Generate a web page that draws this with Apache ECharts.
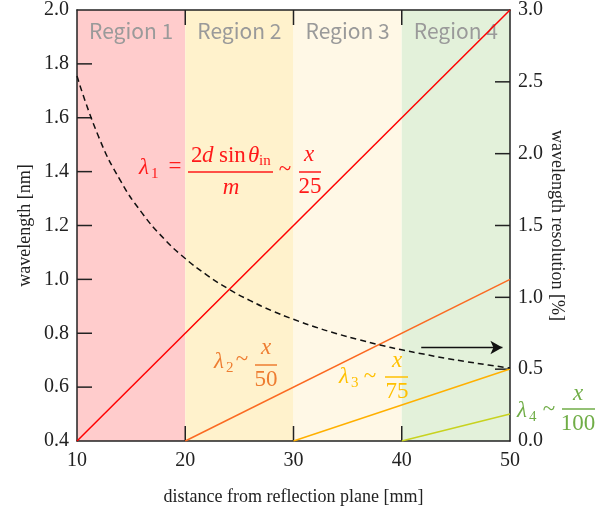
<!DOCTYPE html>
<html>
<head>
<meta charset="utf-8">
<script src="https://cdn.jsdelivr.net/npm/echarts@6/dist/echarts.min.js"></script>
<style>
  html, body { margin: 0; padding: 0; background: #fff; }
  #chart { width: 611px; height: 511px; }
</style>
</head>
<body>
<div id="chart"></div>
<script>
// wavelength lines (x in mm, y in nm)
const lambda1 = [[10, 0.4], [50, 2.0]];
const lambda2 = [[20, 0.4], [50, 1.0]];
const lambda3 = [[30, 0.4], [50, 0.667]];
const lambda4 = [[40, 0.4], [50, 0.5]];

// wavelength resolution [%]
const resX = [10, 12, 14, 16, 18, 20, 22, 24, 26, 28, 30, 32, 34, 36, 38, 40, 42, 44, 46, 48, 50];
const resValues = [2.540, 2.117, 1.814, 1.588, 1.411, 1.270, 1.155, 1.058, 0.977, 0.907, 0.847,
  0.794, 0.747, 0.706, 0.668, 0.635, 0.605, 0.577, 0.552, 0.529, 0.508];

const regionNames = ["Region 1", "Region 2", "Region 3", "Region 4"];
const regionBounds = [[10, 20], [20, 30], [30, 40], [40, 50]];

// inner tick marks
const xTicks = [20, 30, 40];
const leftTicks = [0.6, 0.8, 1.0, 1.2, 1.4, 1.6, 1.8];
const rightTicks = [0.5, 1.0, 1.5, 2.0, 2.5];

// arrow pointing to right axis
const arrowFrom = [41.8, 0.747];
const arrowTo = [49.3, 0.747];

const regionColors = ["#ffcccc", "#fff2cc", "#fff8e6", "#e3f1da"];
const serif = '"Liberation Serif", "Times New Roman", serif';
const TICK_LEN = 15;

const chart = echarts.init(document.getElementById("chart"));

// small helpers for the math labels
function txt(x, y, text, color, size, italic, align) {
  return {
    type: "text",
    silent: true,
    z: 100,
    style: {
      x: x, y: y, text: text, fill: color,
      font: (italic ? "italic " : "") + size + "px " + serif,
      textAlign: align || "center", align: align || "center",
      textVerticalAlign: "middle", verticalAlign: "middle",
    },
  };
}
function bar(x1, x2, y, color) {
  return {
    type: "line",
    silent: true,
    z: 100,
    shape: { x1: x1, y1: y, x2: x2, y2: y },
    style: { stroke: color, lineWidth: 1.5 },
  };
}
function lam(x, y, sub, color) {
  return [txt(x, y, "λ", color, 23, true, "left"), txt(x + 12, y + 6, sub, color, 15, false, "left")];
}

const graphics = [].concat(
  // lambda 1
  lam(139, 168, "1", "#ff1a1a"),
  [txt(175, 167, "=", "#ff1a1a", 23, false)],
  [txt(191, 156, "2", "#ff1a1a", 23, false, "left")],
  [txt(202, 156, "d", "#ff1a1a", 23, true, "left")],
  [txt(219, 156, "sin", "#ff1a1a", 23, false, "left")],
  [txt(248, 156, "θ", "#ff1a1a", 23, true, "left")],
  [txt(259, 161, "in", "#ff1a1a", 15, false, "left")],
  [bar(188, 273, 172, "#ff1a1a")],
  [txt(231, 188, "m", "#ff1a1a", 23, true)],
  [txt(285, 170, "~", "#ff1a1a", 23, false)],
  [txt(309, 155, "x", "#ff1a1a", 23, true)],
  [bar(299, 321, 172, "#ff1a1a")],
  [txt(310, 187, "25", "#ff1a1a", 23, false)],
  // lambda 2
  lam(214, 362, "2", "#ee7d31"),
  [txt(242, 360, "~", "#ee7d31", 23, false)],
  [txt(266, 348, "x", "#ee7d31", 23, true)],
  [bar(255, 277, 365, "#ee7d31")],
  [txt(266, 380, "50", "#ee7d31", 23, false)],
  // lambda 3
  lam(339, 377, "3", "#ffc000"),
  [txt(370, 377, "~", "#ffc000", 23, false)],
  [txt(397, 361, "x", "#ffc000", 23, true)],
  [bar(385, 408, 377, "#ffc000")],
  [txt(397, 392, "75", "#ffc000", 23, false)],
  // lambda 4
  lam(517, 411, "4", "#70ad47"),
  [txt(549, 410, "~", "#70ad47", 23, false)],
  [txt(578, 394, "x", "#70ad47", 23, true)],
  [bar(562, 595, 409, "#70ad47")],
  [txt(578, 424, "100", "#70ad47", 23, false)]
);

const axisText = { color: "#222", fontFamily: serif, fontSize: 20 };
const nameText = { color: "#222", fontFamily: serif, fontSize: 18 };
const hiddenSplit = { show: false };

// coloured background bands
function renderRegion(params, api) {
  const cs = params.coordSys;
  const p0 = api.coord([api.value(0), 0.4]);
  const p1 = api.coord([api.value(1), 0.4]);
  return {
    type: "group",
    children: [
      {
        type: "rect",
        shape: { x: p0[0], y: cs.y, width: p1[0] - p0[0], height: cs.height },
        style: { fill: regionColors[params.dataIndex] },
      },
      {
        type: "text",
        style: {
          x: (p0[0] + p1[0]) / 2,
          y: cs.y + 21,
          text: regionNames[params.dataIndex],
          fill: "#9a9a9a",
          font: '21px "Noto Sans CJK JP", "Noto Sans", sans-serif',
          align: "center",
          verticalAlign: "middle",
        },
      },
    ],
  };
}

// inward ticks
function tickLine(x1, y1, x2, y2) {
  return { type: "line", shape: { x1: x1, y1: y1, x2: x2, y2: y2 }, style: { stroke: "#222", lineWidth: 1.5 } };
}
// pixel y of a value; falls back to the grid box if the scale gives nothing
function yPixel(api, cs, xv, v, min, max) {
  const py = api.coord([xv, v])[1];
  if (isFinite(py)) return py;
  return cs.y + cs.height * (max - v) / (max - min);
}
function renderTicksLeft(params, api) {
  const cs = params.coordSys;
  const children = [];
  xTicks.forEach((v) => {
    const px = api.coord([v, 0.4])[0];
    children.push(tickLine(px, cs.y + cs.height, px, cs.y + cs.height - TICK_LEN));
    children.push(tickLine(px, cs.y, px, cs.y + TICK_LEN));
  });
  leftTicks.forEach((v) => {
    const py = yPixel(api, cs, 10, v, 0.4, 2.0);
    children.push(tickLine(cs.x, py, cs.x + TICK_LEN, py));
  });
  return { type: "group", children: children };
}
function renderTicksRight(params, api) {
  const cs = params.coordSys;
  const children = rightTicks.map((v) => {
    const py = yPixel(api, cs, 50, v, 0, 3.0);
    return tickLine(cs.x + cs.width, py, cs.x + cs.width - TICK_LEN, py);
  });
  return { type: "group", children: children };
}

chart.setOption({
  animation: false,
  backgroundColor: "#fff",
  grid: { left: 77, right: 101, top: 10, bottom: 68 },
  xAxis: [
    {
      type: "value",
      min: 10,
      max: 50,
      interval: 10,
      name: "distance from reflection plane [mm]",
      nameLocation: "middle",
      nameGap: 47,
      nameMoveOverlap: false,
      nameTextStyle: nameText,
      axisLine: { show: true, onZero: false, lineStyle: { color: "#222", width: 1.5 } },
      axisTick: { show: false },
      axisLabel: Object.assign({ margin: 10 }, axisText),
      splitLine: hiddenSplit,
    },
    {
      type: "value",
      position: "top",
      min: 10,
      max: 50,
      interval: 10,
      axisLine: { show: true, onZero: false, lineStyle: { color: "#222", width: 1.5 } },
      axisTick: { show: false },
      axisLabel: { show: false },
      splitLine: hiddenSplit,
    },
  ],
  yAxis: [
    {
      type: "value",
      min: 0.4,
      max: 2.0,
      interval: 0.2,
      name: "wavelength [nm]",
      nameLocation: "middle",
      nameGap: 43,
      nameMoveOverlap: false,
      nameTextStyle: nameText,
      axisLine: { show: true, onZero: false, lineStyle: { color: "#222", width: 1.5 } },
      axisTick: { show: false },
      axisLabel: Object.assign({ margin: 8, formatter: (v) => v.toFixed(1) }, axisText),
      splitLine: hiddenSplit,
    },
    {
      type: "value",
      min: 0,
      max: 3.0,
      interval: 0.5,
      position: "right",
      name: "wavelength resolution [%]",
      nameLocation: "middle",
      nameGap: 38,
      nameMoveOverlap: false,
      nameRotate: -90,
      nameTextStyle: nameText,
      axisLine: { show: true, onZero: false, lineStyle: { color: "#222", width: 1.5 } },
      axisTick: { show: false },
      axisLabel: Object.assign({ margin: 8, formatter: (v) => v.toFixed(1) }, axisText),
      splitLine: hiddenSplit,
    },
  ],
  series: [
    {
      name: "regions",
      type: "custom",
      silent: true,
      z: -10,
      renderItem: renderRegion,
      encode: { x: [0, 1] },
      data: regionBounds,
    },
    {
      name: "ticks",
      type: "custom",
      silent: true,
      clip: false,
      z: 3,
      renderItem: renderTicksLeft,
      encode: { x: 0, y: 1 },
      data: [[10, 0.4]],
    },
    {
      name: "ticksRight",
      type: "custom",
      silent: true,
      clip: false,
      yAxisIndex: 1,
      z: 3,
      renderItem: renderTicksRight,
      encode: { x: 0, y: 1 },
      data: [[50, 0]],
    },
    {
      name: "λ1",
      type: "line",
      data: lambda1,
      symbol: "none",
      lineStyle: { color: "#ff0000", width: 1.5 },
      z: 5,
    },
    {
      name: "λ2",
      type: "line",
      data: lambda2,
      symbol: "none",
      lineStyle: { color: "#fb6a22", width: 1.5 },
      z: 5,
    },
    {
      name: "λ3",
      type: "line",
      data: lambda3,
      symbol: "none",
      lineStyle: { color: "#ffb000", width: 1.5 },
      z: 5,
    },
    {
      name: "λ4",
      type: "line",
      data: lambda4,
      symbol: "none",
      lineStyle: { color: "#c8d21e", width: 1.5 },
      z: 5,
      markLine: {
        silent: true,
        symbol: ["none", "arrow"],
        symbolSize: [10, 12],
        label: { show: false },
        lineStyle: { color: "#111", width: 1.3, type: "solid" },
        data: [[{ coord: arrowFrom }, { coord: arrowTo }]],
      },
    },
    {
      name: "resolution",
      type: "line",
      yAxisIndex: 1,
      data: resX.map((x, i) => [x, resValues[i]]),
      symbol: "none",
      smooth: true,
      lineStyle: { color: "#111", width: 1.5, type: [6, 4] },
      z: 6,
    },
  ],
  graphic: graphics,
});
</script>
</body>
</html>
